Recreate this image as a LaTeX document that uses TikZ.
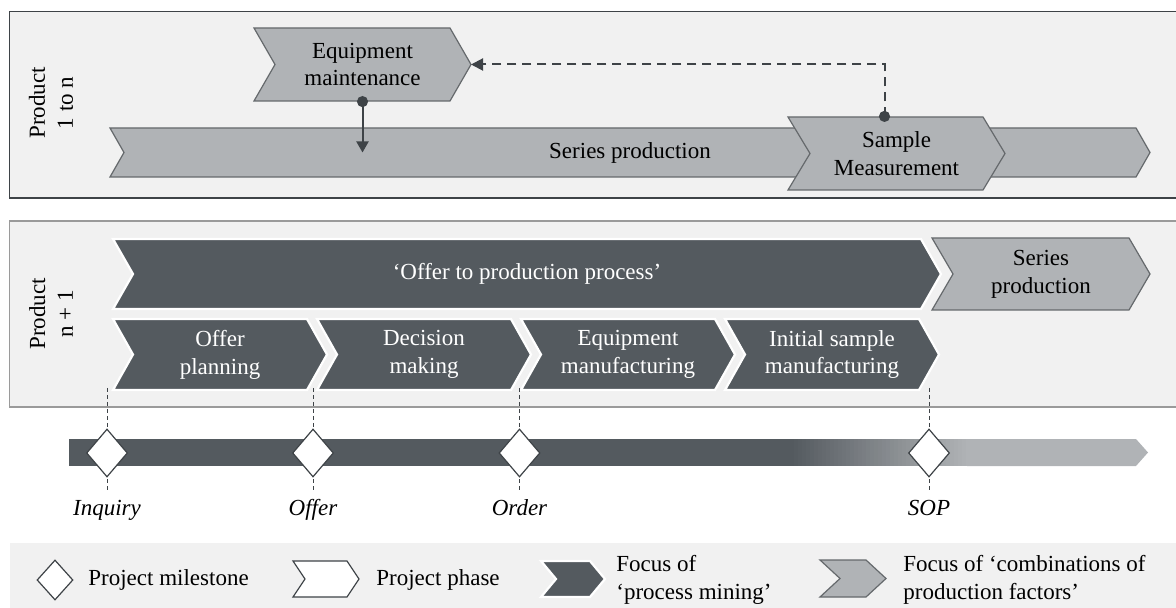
\documentclass[tikz,border=0pt]{standalone}
\usepackage{fontspec}
\setmainfont{Liberation Serif}
\usetikzlibrary{arrows.meta,shapes.geometric,positioning}
\definecolor{oscuro}{HTML}{545A5F}
\definecolor{gris}{HTML}{B0B3B6}
\definecolor{fondo}{HTML}{F1F1F1}
\definecolor{tinta}{HTML}{3E4347}
\definecolor{borde}{HTML}{9A9A9A}

\tikzset{
  txt/.style={font=\fontsize{11.5}{13.9}\selectfont, inner sep=0pt, align=center},
  fasegris/.style={fill=gris, draw=tinta!80, line width=0.6pt, text=black},
  faseoscura/.style={fill=oscuro, draw=white, line width=1.1pt, text=white},
  faseblanca/.style={fill=white, draw=tinta, line width=0.6pt},
  hito/.style={diamond, draw=tinta, fill=white, line width=0.6pt, inner sep=0pt,
    minimum width=20.5pt, minimum height=24pt},
  hitolinea/.style={tinta, line width=0.5pt, dash pattern=on 2pt off 1.5pt},
  hitotexto/.style={txt, font=\fontsize{11.5}{13.9}\selectfont\itshape, anchor=base},
  enlace/.style={tinta, line width=1pt},
}

% chevron: [estilo]{nombre}{x izq}{x der}{y arriba}{y abajo}{punta}{texto}
\newcommand{\fase}[8][fasegris]{%
  \draw[#1] (#3,#5) -- (#4,#5) -- ({#4+#7},{(#5+#6)/2}) -- (#4,#6)
    -- (#3,#6) -- ({#3+#7},{(#5+#6)/2}) -- cycle;
  \coordinate (#2-punta) at ({#4+#7},{(#5+#6)/2});
  \node[txt,#1,draw=none,fill=none,minimum width={(#4-#3)*0.5pt},
    minimum height={(#6-#5)*0.5pt}] (#2) at ({(#3+#4+#7)/2},{(#5+#6)/2}) {#8};
}

\begin{document}
\begin{tikzpicture}[x=0.5pt,y=-0.5pt]
    \useasboundingbox (0,0) rectangle (1176,608);
    % ---- Paneles ----
    \draw[tinta, line width=0.7pt, fill=fondo] (9.5,11.5) rectangle (1182,198);
    \draw[borde, line width=0.8pt, fill=fondo] (9.5,221) rectangle (1182,407);
    \fill[fondo] (9.5,543) rectangle (1176,608);

    % ---- Producto 1 a n ----
    \node[txt, rotate=90] (p1) at (51,103) {Product\\1 to n};
    \fase{serie}{110}{1136}{128}{177}{14}{Series production}
    \fase{mant}{254}{450}{28}{101}{21}{Equipment\\maintenance}
    \fase{muestra}{788}{983}{117}{190}{22}{Sample\\Measurement}

    % ---- Enlaces ----
    \fill[tinta] (mant.south) circle (2.8pt);
    \draw[enlace,-{Triangle[length=5.5pt,width=6pt]}] (mant.south) -- (mant.south |- serie.center);
    \fill[tinta] ([xshift=-6pt]muestra.north) circle (2.8pt);
    \draw[enlace,dash pattern=on 4.5pt off 3pt,-{Triangle[length=6pt,width=6pt]}]
        ([xshift=-6pt]muestra.north) |- (mant-punta);

    % ---- Producto n+1 ----
    \node[txt, rotate=90] (p2) at (51,314) {Product\\n + 1};
    \fase[faseoscura]{proceso}{113}{921}{239}{309}{20}{‘Offer to production process’}
    \fase{serie2}{932}{1129}{238}{310}{21}{Series\\production}
    \fase[faseoscura]{oferta}{113}{307}{319}{390}{20}{Offer\\planning}
    \fase[faseoscura]{decision}{317}{511}{319}{390}{20}{Decision\\making}
    \fase[faseoscura]{equipo}{521}{715}{319}{390}{20}{Equipment\\manufacturing}
    \fase[faseoscura]{inicial}{725}{919}{319}{390}{20}{Initial sample\\manufacturing}

    % ---- Linea de tiempo ----
    \fill[oscuro] (69,439) rectangle (791,466);
    % degradado de oscuro a gris, a tiras
    \foreach \i in {0,...,44}{
      \pgfmathsetmacro\mezcla{100*\i/44}
      \fill[gris!\mezcla!oscuro] ({790+4*\i},439) rectangle ({795+4*\i},466);
    }
    \fill[gris] (967,439) -- (1136,439) -- (1148,452.5) -- (1136,466) -- (967,466) -- cycle;

    % ---- Hitos ----
    \coordinate (c-inq) at (107,453);
    \coordinate (c-off) at (313,453);
    \coordinate (c-ord) at (519.5,453);
    \coordinate (c-sop) at (929,453);
    \draw[hitolinea] (c-inq) ++(0,-65) -- ++(0,102);
    \draw[hitolinea] (c-off) ++(0,-65) -- ++(0,102);
    \draw[hitolinea] (c-ord) ++(0,-65) -- ++(0,102);
    \draw[hitolinea] (c-sop) ++(0,-65) -- ++(0,102);
    \node[hito] (inq) at (c-inq) {};
    \node[hito] (off) at (c-off) {};
    \node[hito] (ord) at (c-ord) {};
    \node[hito] (sop) at (c-sop) {};
    \node[hitotexto] (inq-t) at (107,515) {Inquiry};
    \node[hitotexto] (off-t) at (313,515) {Offer};
    \node[hitotexto] (ord-t) at (519.5,515) {Order};
    \node[hitotexto] (sop-t) at (929,515) {SOP};

    % ---- Leyenda ----
    \node[hito, minimum width=18pt, minimum height=20pt] (ley-hito) at (55,580) {};
    \node[txt, anchor=west] (ley-hito-t) at (88,580) {Project milestone};
    \fase[faseblanca]{ley-fase}{293}{347}{561}{597}{12}{}
    \node[txt, anchor=west] (ley-fase-t) at (376,580) {Project phase};
    \fase[faseoscura]{ley-pm}{541}{590}{561}{597}{15}{}
    \node[txt, anchor=west, align=left] (ley-pm-t) at (616,580) {Focus of\\‘process mining’};
    \fase{ley-pf}{820}{866}{560}{597}{20}{}
    \node[txt, anchor=west, align=left] (ley-pf-t) at (903,580) {Focus of ‘combinations of\\production factors’};

\end{tikzpicture}
\end{document}
